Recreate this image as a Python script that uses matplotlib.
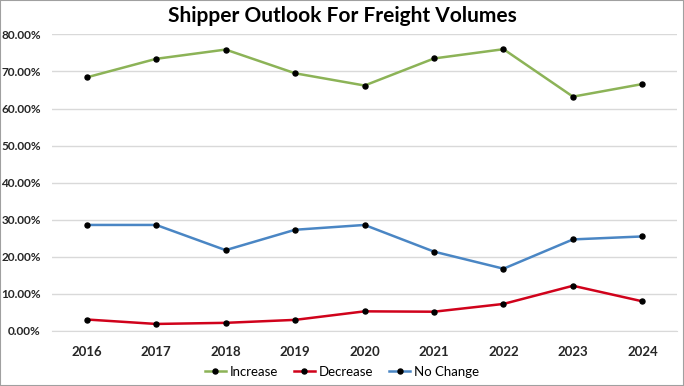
import matplotlib.pyplot as plt
from matplotlib.ticker import PercentFormatter

plt.rcParams['font.family'] = ['Lato', 'DejaVu Sans']

years = ['2016', '2017', '2018', '2019', '2020', '2021', '2022', '2023', '2024']
increase = [68.4, 73.4, 75.9, 69.5, 66.2, 73.5, 76.0, 63.2, 66.6]
decrease = [3.1, 1.9, 2.2, 3.0, 5.3, 5.2, 7.3, 12.2, 8.0]
no_change = [28.6, 28.6, 21.8, 27.3, 28.6, 21.4, 16.8, 24.7, 25.5]

fig = plt.figure(figsize=(6.84, 3.86), dpi=100)
ax = fig.add_axes([0.076, 0.1425, 0.914, 0.7685])

x = range(len(years))
style = dict(lw=1.8, marker='o', ms=3.6, mfc='black', mec='black')
ax.plot(x, increase, color='#8CB357', label='Increase', **style)
ax.plot(x, decrease, color='#D0021B', label='Decrease', **style)
ax.plot(x, no_change, color='#4A86C4', label='No Change', **style)

ax.set_xlim(-0.5, len(years) - 0.5)
ax.set_ylim(0, 80)
ax.set_yticks(range(0, 81, 10))
ax.yaxis.set_major_formatter(PercentFormatter(decimals=2))
ax.set_xticks(list(x))
ax.set_xticklabels(years)
ax.grid(axis='y', color='#D9D9D9', lw=1)
ax.set_axisbelow(True)
for s in ['top', 'right', 'left']:
    ax.spines[s].set_visible(False)
ax.spines['bottom'].set_color('#D9D9D9')
ax.tick_params(length=0, labelsize=8.5, pad=8)
ax.tick_params(axis='x', labelsize=9.5, pad=11)
for lab in ax.get_xticklabels() + ax.get_yticklabels():
    lab.set_fontweight('bold')
    lab.set_color('#262626')

fig.suptitle('Shipper Outlook For Freight Volumes', y=0.985, fontsize=15, fontweight='bold')
fig.legend(loc='lower center', bbox_to_anchor=(0.5, -0.01), ncol=3, frameon=False,
           fontsize=9.5, handlelength=1.6, handletextpad=0.3, columnspacing=1.2)

fig.patches.append(plt.Rectangle((0, 0), 1, 1, transform=fig.transFigure,
                                 fill=False, edgecolor='#A0A0A0', lw=1.5))
fig.savefig('out.png', dpi=100)
